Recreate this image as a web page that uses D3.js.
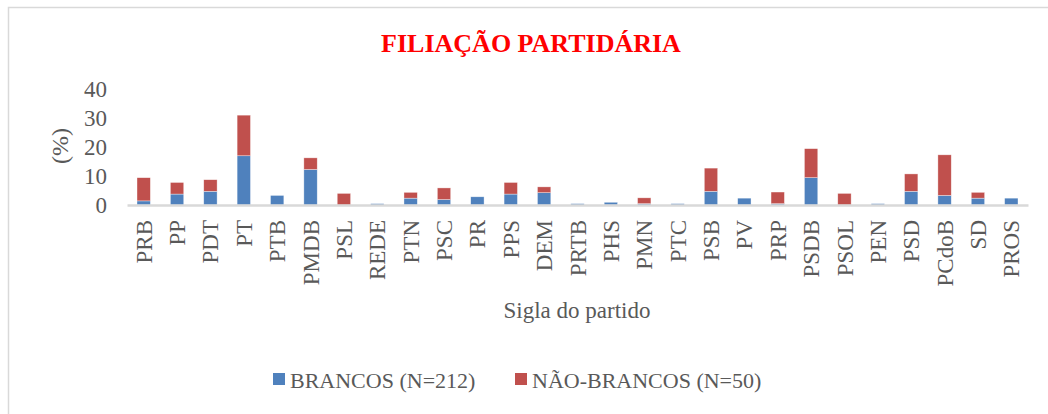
<!DOCTYPE html>
<html lang="pt">
<head>
    <meta charset="UTF-8">
    <title>Filiação partidária</title>
    <style>
        body { margin: 0; background: #fff; }
    </style>
</head>
<body>
    <svg width="1048" height="414"></svg>
    <script src="https://d3js.org/d3.v7.min.js"></script>
    <script>

    // dados (%)
    const partidos = ['PRB','PP','PDT','PT','PTB','PMDB','PSL','REDE','PTN','PSC','PR','PPS','DEM','PRTB',
                      'PHS','PMN','PTC','PSB','PV','PRP','PSDB','PSOL','PEN','PSD','PCdoB','SD','PROS'];
    const brancos = [1.42, 3.77, 4.72, 16.98, 3.30, 12.26, 0, 0.47, 2.36, 1.89, 2.83, 3.77, 4.25, 0.47,
                     0.94, 0.47, 0.47, 4.72, 2.36, 0.47, 9.43, 0, 0.47, 4.72, 3.30, 2.36, 2.36];
    const naoBrancos = [8, 4, 4, 14, 0, 4, 4, 0, 2, 4, 0, 4, 2, 0,
                        0, 2, 0, 8, 0, 4, 10, 4, 0, 6, 14, 2, 0];
    const series = ['BRANCOS (N=212)', 'NÃO-BRANCOS (N=50)'];
    const yTicks = [0, 10, 20, 30, 40];

    const cores = ['#4f81bd', '#c0504d'];
    const fonte = '"Liberation Serif", "Times New Roman", serif';
    const svg = d3.select('svg');

    // moldura
    svg.append('rect')
        .attr('x', 8.5).attr('y', 7.5)
        .attr('width', 1045).attr('height', 420)
        .attr('fill', 'none').attr('stroke', '#d9d9d9').attr('stroke-width', 1.5);

    const x = d3.scaleBand().domain(partidos).range([127, 1028]).paddingInner(0.6).paddingOuter(0.3);
    const y = d3.scaleLinear().domain([0, 40]).range([205, 89]);

    const tabela = partidos.map((p, i) => ({ partido: p, b: brancos[i], nb: naoBrancos[i] }));
    const pilha = d3.stack().keys(['b', 'nb'])(tabela);

    // título
    svg.append('text')
        .attr('x', 531).attr('y', 52)
        .attr('text-anchor', 'middle')
        .style('font-family', fonte)
        .attr('font-size', 26).attr('font-weight', 'bold')
        .attr('fill', '#ff0000')
        .text('FILIAÇÃO PARTIDÁRIA');

    // eixo y (só rótulos)
    const yAxis = svg.append('g')
        .attr('transform', 'translate(127,0)')
        .call(d3.axisLeft(y).tickValues(yTicks).tickSize(0).tickPadding(20));
    yAxis.select('.domain').remove();
    yAxis.selectAll('text').attr('font-size', 23).attr('fill', '#595959')
        .style('font-family', fonte);

    svg.append('text')
        .attr('transform', 'translate(68,146) rotate(-90)')
        .attr('text-anchor', 'middle')
        .style('font-family', fonte)
        .attr('font-size', 24).attr('fill', '#595959')
        .text('(%)');

    // barras
    svg.selectAll('g.serie')
        .data(pilha)
        .join('g')
        .attr('class', 'serie')
        .attr('fill', (d, i) => cores[i])
        .selectAll('rect')
        .data(d => d)
        .join('rect')
        .attr('x', d => x(d.data.partido))
        .attr('y', d => y(d[1]))
        .attr('width', x.bandwidth())
        .attr('height', d => y(d[0]) - y(d[1]))
        .attr('stroke', '#fff').attr('stroke-width', 0.6).attr('stroke-opacity', 0.6);

    // eixo x
    const xAxis = svg.append('g')
        .attr('transform', 'translate(0,205)')
        .call(d3.axisBottom(x).tickSize(0).tickPadding(15));
    xAxis.select('.domain').attr('stroke', '#d9d9d9').attr('stroke-width', 2.5);
    xAxis.selectAll('text')
        .attr('font-size', 23).attr('fill', '#595959')
        .style('font-family', fonte)
        .attr('text-anchor', 'end')
        .attr('transform', 'rotate(-90)')
        .attr('x', -15).attr('y', 0).attr('dy', '0.35em');

    svg.append('text')
        .attr('x', 577).attr('y', 318)
        .attr('text-anchor', 'middle')
        .style('font-family', fonte)
        .attr('font-size', 23).attr('fill', '#595959')
        .text('Sigla do partido');

    // legenda
    const leg = svg.append('g');
    const legX = [273, 515];
    series.forEach((s, i) => {
        leg.append('rect')
            .attr('x', legX[i]).attr('y', 373)
            .attr('width', 12).attr('height', 12)
            .attr('fill', cores[i]);
        leg.append('text')
            .attr('x', legX[i] + 17).attr('y', 388)
            .style('font-family', fonte)
            .attr('font-size', 22).attr('fill', '#595959')
            .text(s);
    });

    </script>
</body>
</html>
